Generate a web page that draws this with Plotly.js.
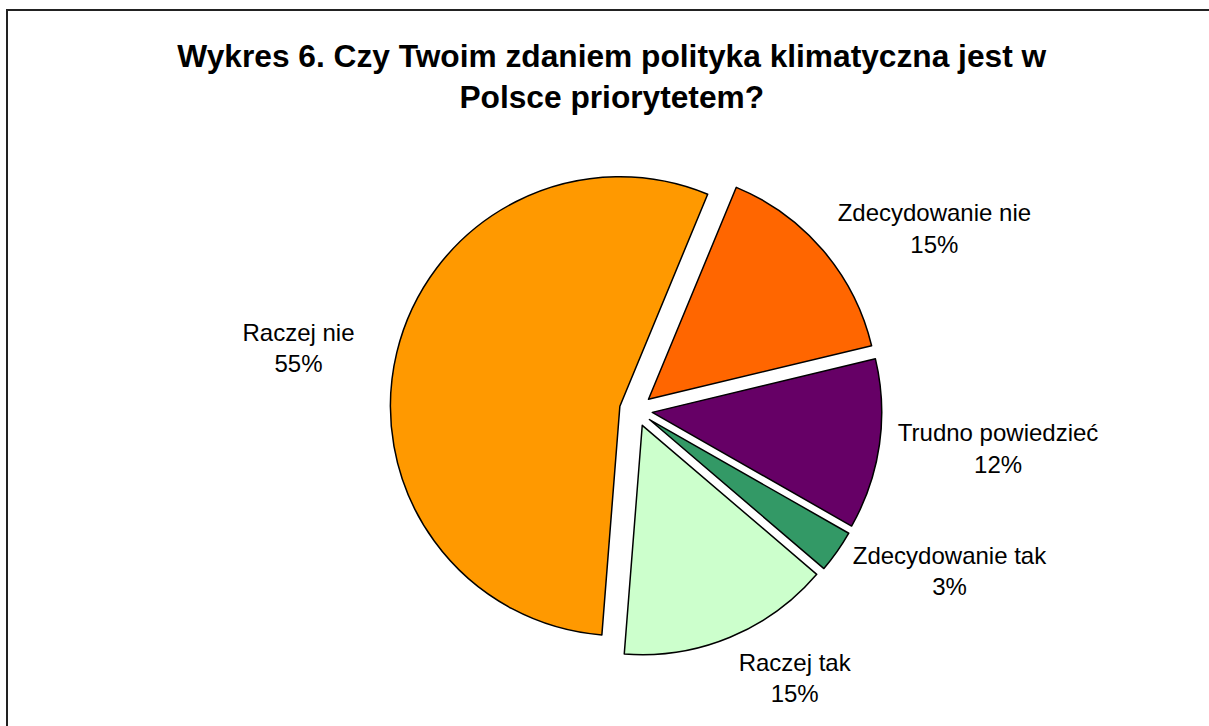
<!DOCTYPE html>
<html>
<head>
<meta charset="utf-8">
<script src="https://cdn.plot.ly/plotly-3.0.1.min.js"></script>
<style>html,body{margin:0;padding:0;background:#fff;}#chart{width:1209px;height:726px;}</style>
</head>
<body>
<div id="chart"></div>
<script>
const categories = ["Zdecydowanie nie", "Trudno powiedzieć", "Zdecydowanie tak", "Raczej tak", "Raczej nie"];
const values = [15, 12, 3, 15, 55];
const colors = ["#FF6600", "#660066", "#339966", "#CCFFCC", "#FF9900"];
const titleText = "Wykres 6. Czy Twoim zdaniem polityka klimatyczna jest w<br>Polsce priorytetem?";

const FONT = "Liberation Sans, Arial, sans-serif";
const ROT = 22.5;

// visible exploded pie
const pieTrace = {
  type: "pie",
  labels: categories,
  values: values,
  sort: false,
  direction: "clockwise",
  rotation: ROT,
  pull: categories.map(() => 0.072),
  marker: {colors: colors, line: {color: "#000", width: 1.5}},
  textinfo: "none",
  hoverinfo: "label+percent",
  domain: {x: [0.226, 0.826], y: [0.0964, 0.774]},
  showlegend: false
};

// transparent companion pie (slightly larger) that carries the outside labels
const labelTrace = {
  type: "pie",
  labels: categories,
  values: values,
  sort: false,
  direction: "clockwise",
  rotation: ROT,
  marker: {colors: categories.map(() => "rgba(0,0,0,0)"), line: {width: 0}},
  textposition: "outside",
  texttemplate: "%{label}<br>%{value}%",
  outsidetextfont: {family: FONT, size: 24, color: "#000"},
  hoverinfo: "skip",
  domain: {x: [0.190, 0.842], y: [0.073, 0.7948]},
  showlegend: false
};

const layout = {
  width: 1209, height: 726,
  margin: {l: 0, r: 0, t: 0, b: 0},
  paper_bgcolor: "#fff",
  font: {family: FONT, color: "#000"},
  title: {
    text: "<b>" + titleText + "</b>",
    font: {family: FONT, size: 31.7, color: "#000"},
    x: 0.506, xanchor: "center", y: 0.908, yanchor: "middle"
  },
  shapes: [{
    type: "rect", xref: "paper", yref: "paper",
    x0: 7/1209, x1: 1.02, y0: -0.02, y1: 1 - 10/726,
    line: {color: "#222", width: 2}, fillcolor: "rgba(0,0,0,0)", layer: "below"
  }]
};

Plotly.newPlot("chart", [pieTrace, labelTrace], layout, {displayModeBar: false, staticPlot: true});
</script>
</body>
</html>
